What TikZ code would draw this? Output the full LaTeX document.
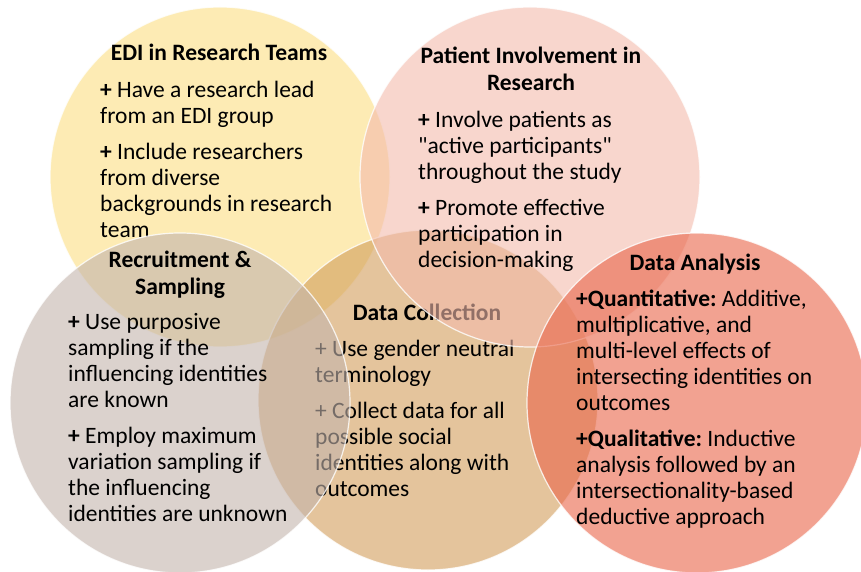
\documentclass[tikz,border=0pt]{standalone}
\usepackage{fontspec}
\setmainfont{Carlito}
\usepackage{tikz}
\frenchspacing
\definecolor{ediyellow}{RGB}{251,222,130}
\definecolor{patientpink}{RGB}{243,187,172}
\definecolor{samplegrey}{RGB}{195,180,172}
\definecolor{collecttan}{RGB}{210,157,90}
\definecolor{analysisred}{RGB}{233,100,72}
\tikzstyle{bubble} = [circle, draw=white, line width=1.2pt, minimum size=340pt,
inner sep=0pt, fill opacity=0.6, draw opacity=0.8]
\tikzstyle{title} = [font=\fontsize{23.5}{27}\selectfont\bfseries, align=center,
inner sep=0pt, anchor=base]
\tikzstyle{bullets} = [font=\fontsize{23.5}{26}\selectfont, align=left,
inner sep=0pt, anchor=base west]

\begin{document}
\begin{tikzpicture}[x=1pt, y=-1pt]
		\useasboundingbox (0,0) rectangle (861,572);
		% base anchors sit on the last line of each block
		\node [bubble, fill=ediyellow] (edi) at (220,177) {};
		\node [title] (ediTitle) at (219,61) {EDI in Research Teams};
		\node [bullets] (ediText) at (100,237) {\textbf{+} Have a research lead\\
			from an EDI group\\[10pt]
			\textbf{+} Include researchers\\ from diverse\\ backgrounds in research\\ team};
		
		\node [bubble, fill=collecttan] (collect) at (428,400) {};
		\node [title] (collectTitle) at (427,320) {Data Collection};
		\node [bullets] (collectText) at (315,496) {+ Use gender neutral\\ terminology\\[10pt]
			+ Collect data for all\\ possible social\\ identities along with\\ outcomes};
		
		\node [bubble, fill=samplegrey] (sampling) at (180,403) {};
		\node [title] (samplingTitle) at (180,294) {Recruitment \&\\ Sampling};
		\node [bullets] (samplingText) at (68,521) {\textbf{+} Use purposive\\
			sampling if the\\ influencing identities\\ are known\\[10pt]
			\textbf{+} Employ maximum\\ variation sampling if\\ the influencing\\
			identities are unknown};
		
		\node [bubble, fill=patientpink] (patient) at (530,177) {};
		\node [title] (patientTitle) at (531,91) {Patient Involvement in\\ Research};
		\node [bullets] (patientText) at (418,267) {\textbf{+} Involve patients as\\
			\textquotedbl active participants\textquotedbl\\ throughout the study\\[10pt]
			\textbf{+} Promote effective\\ participation in\\ decision-making};
		
		\node [bubble, fill=analysisred] (analysis) at (697,403) {};
		\node [title] (analysisTitle) at (695,270) {Data Analysis};
		\node [bullets] (analysisText) at (576,524) {\textbf{+Quantitative:} Additive,\\
			multiplicative, and\\ multi-level effects of\\ intersecting identities on\\
			outcomes\\[10pt]
			\textbf{+Qualitative:} Inductive\\ analysis followed by an\\
			intersectionality-based\\ deductive approach};
\end{tikzpicture}
\end{document}
